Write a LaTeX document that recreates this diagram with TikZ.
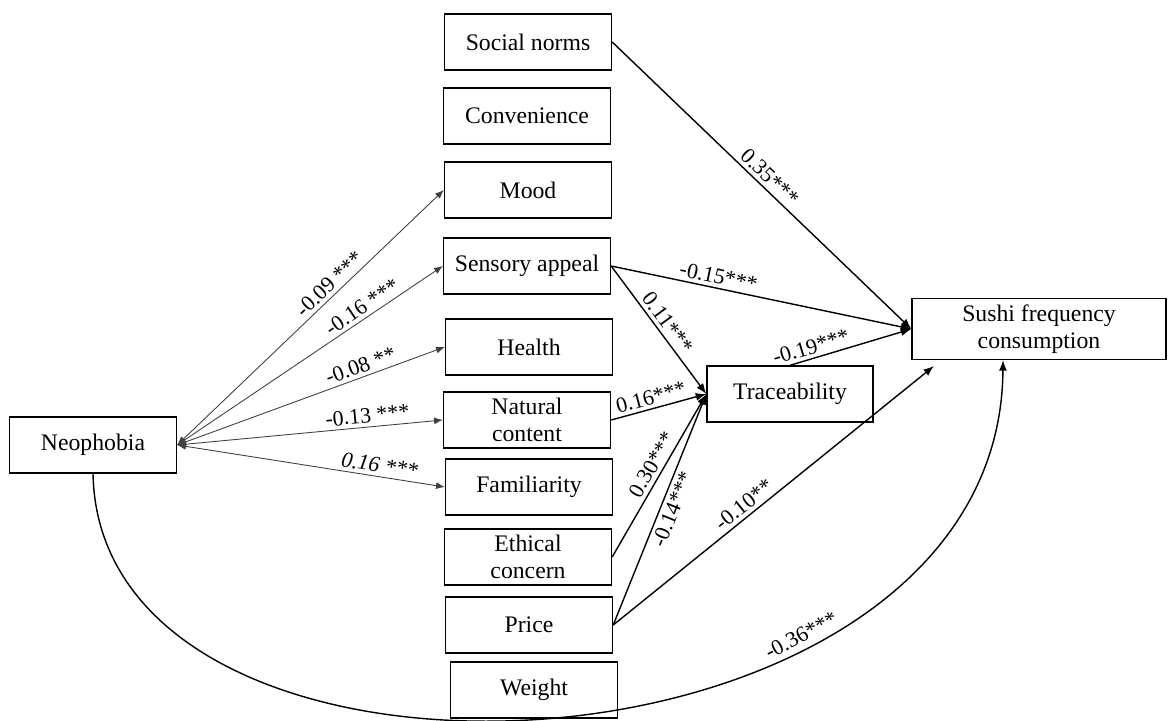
\documentclass[tikz,border=0pt]{standalone}
\usepackage{fontspec}
\setmainfont{Liberation Serif}
\usepackage{tikz}
\usetikzlibrary{arrows.meta, positioning}

\begin{document}
\begin{tikzpicture}[x=0.02cm, y=-0.02cm,
    box/.style={draw, rectangle, line width=0.8pt, minimum width=3.34cm, minimum height=1.12cm, align=center, font=\fontsize{13.5}{15.5}\selectfont},
    effect/.style={line width=0.8pt, -{Latex[length=6pt, width=4.5pt]}},
    corr/.style={line width=0.5pt, draw=black!75, {Latex[length=5pt, width=4pt]}-{Latex[length=5pt, width=4pt]}},
    coef/.style={font=\fontsize{12.5}{14}\selectfont, sloped, inner sep=2pt}]

    \useasboundingbox (0,0) rectangle (1168,720);

    % Food choice motives
    \node[box] (soc) at (528,42) {Social norms};
    \node[box] (conv) at (527,116) {Convenience};
    \node[box] (mood) at (528,190) {Mood};
    \node[box] (sens) at (527,266) {Sensory appeal};
    \node[box] (health) at (529,347) {Health};
    \node[box] (nat) at (527,420) {Natural\\content};
    \node[box] (fam) at (529,487) {Familiarity};
    \node[box] (eth) at (528,557) {Ethical\\concern};
    \node[box] (price) at (529,625) {Price};
    \node[box] (weight) at (534,690) {Weight};

    % Neophobia, traceability and outcome
    \node[box] (neo) at (93,445) {Neophobia};
    \node[box, minimum width=3.32cm] (trace) at (790,394) {Traceability};
    \node[box, minimum width=5.08cm] (sushi) at (1039,329) {Sushi frequency\\consumption};
    \coordinate (psend) at (934,366);

    % Neophobia links
    \draw[corr] (neo.east) -- (mood.west) node[coef, above, pos=0.6] {-0.09 ***};
    \draw[corr] (neo.east) -- (sens.west) node[coef, above, pos=0.72] {-0.16 ***};
    \draw[corr] (neo.east) -- (health.west) node[coef, above, pos=0.7] {-0.08 **};
    \draw[corr] (neo.east) -- (nat.west) node[coef, above, pos=0.72] {-0.13 ***};
    \draw[corr] (neo.east) -- (fam.west) node[coef, above, pos=0.75] {\itshape 0.16 ***};

    % Paths to traceability
    \draw[effect] (sens.east) -- (trace.west) node[coef, above, pos=0.5] {0.11***};
    \draw[effect] (nat.east) -- (trace.west) node[coef, above, pos=0.45] {0.16***};
    \draw[effect] (eth.east) -- (trace.west) node[coef, above, pos=0.53] {0.30***};
    \draw[effect] (price.east) -- (trace.west) node[coef, below, pos=0.52] {-0.14***};

    % Paths to consumption
    \draw[effect] (soc.east) -- (sushi.west) node[coef, above, pos=0.5] {0.35***};
    \draw[effect] (sens.east) -- (sushi.west) node[coef, above, pos=0.35] {-0.15***};
    \draw[effect] (trace.north) -- (sushi.west) node[coef, above, pos=0.2] {-0.19***};
    \draw[effect] (price.east) -- (psend) node[coef, above, pos=0.43] {-0.10**};
    \draw[effect] (neo.south) .. controls (100,840) and (1000,795) .. ([xshift=-0.72cm]sushi.south)
        node[coef, above, pos=0.7] {-0.36***};

\end{tikzpicture}
\end{document}
